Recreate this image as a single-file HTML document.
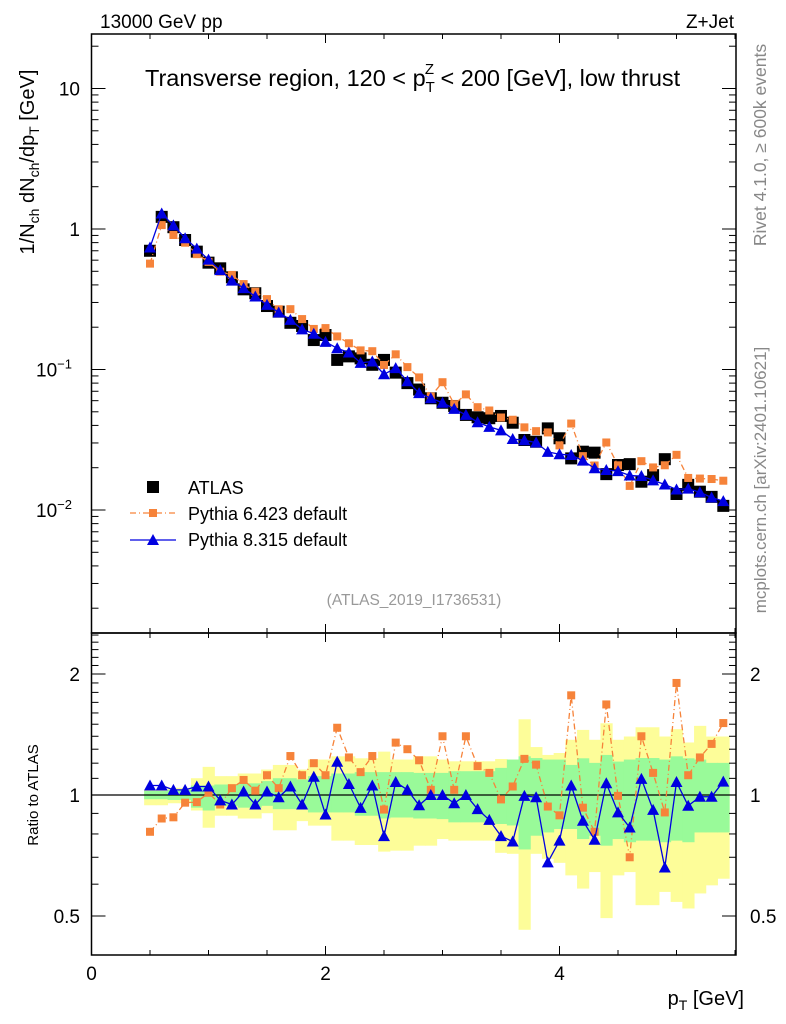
<!DOCTYPE html>
<html><head><meta charset="utf-8"><style>
body{margin:0;background:#fff}
svg{display:block;font-family:"Liberation Sans",sans-serif}
</style></head><body>
<svg id="c" width="786" height="1024" viewBox="0 0 786 1024" xmlns="http://www.w3.org/2000/svg">
<g id="bands"></g><g id="marks"></g><g id="axes"></g>
<text x="100" y="28" font-size="19">13000 GeV pp</text>
<text x="734" y="28" font-size="19" text-anchor="end">Z+Jet</text>
<text x="145" y="86" font-size="23.5">Transverse region, 120 &lt; p<tspan font-size="15" dy="6">T</tspan><tspan font-size="15" dx="-10" dy="-18">Z</tspan><tspan dy="12"> &lt; 200 [GeV], low thrust</tspan></text>
<text transform="translate(34,162) rotate(-90)" font-size="20" text-anchor="middle">1/N<tspan font-size="14" dy="5">ch</tspan><tspan dy="-5"> dN</tspan><tspan font-size="14" dy="5">ch</tspan><tspan dy="-5">/dp</tspan><tspan font-size="14" dy="5">T</tspan><tspan dy="-5"> [GeV]</tspan></text>
<text transform="translate(38,795) rotate(-90)" font-size="15" text-anchor="middle">Ratio to ATLAS</text>
<text x="744" y="1005" font-size="20" text-anchor="end">p<tspan font-size="14" dy="5">T</tspan><tspan dy="-5"> [GeV]</tspan></text>
<text transform="translate(766,145) rotate(-90)" font-size="17.5" fill="#888" text-anchor="middle">Rivet 4.1.0, ≥ 600k events</text>
<text transform="translate(766,480) rotate(-90)" font-size="17" fill="#888" text-anchor="middle">mcplots.cern.ch [arXiv:2401.10621]</text>
<text x="414" y="605" font-size="15.5" fill="#999" text-anchor="middle">(ATLAS_2019_I1736531)</text>
<g>
<rect x="147" y="481" width="12" height="12" fill="#000"/>
<text x="188" y="494" font-size="18">ATLAS</text>
<line x1="130" y1="513" x2="176" y2="513" stroke="#f6833a" stroke-width="1.3" stroke-dasharray="6,3,1,3"/>
<rect x="149" y="509" width="8" height="8" fill="#f6833a"/>
<text x="188" y="520" font-size="18">Pythia 6.423 default</text>
<line x1="130" y1="540" x2="176" y2="540" stroke="#0000e0" stroke-width="1.3"/>
<path d="M153,534 L159,545 L147,545 Z" fill="#0000e0"/>
<text x="188" y="546" font-size="18">Pythia 8.315 default</text>
</g>
</svg>
<script>
const xs=[0.5,0.6,0.7,0.8,0.9,1.0,1.1,1.2,1.3,1.4,1.5,1.6,1.7,1.8,1.9,2.0,2.1,2.2,2.3,2.4,2.5,2.6,2.7,2.8,2.9,3.0,3.1,3.2,3.3,3.4,3.5,3.6,3.7,3.8,3.9,4.0,4.1,4.2,4.3,4.4,4.5,4.6,4.7,4.8,4.9,5.0,5.1,5.2,5.3,5.4];
const atlas=[0.70,1.22,1.03,0.835,0.69,0.576,0.525,0.453,0.372,0.349,0.283,0.258,0.215,0.204,0.162,0.176,0.117,0.124,0.12,0.108,0.117,0.095,0.080,0.072,0.0624,0.058,0.055,0.0475,0.0457,0.045,0.0467,0.0418,0.0315,0.0306,0.0381,0.0324,0.0233,0.026,0.0256,0.018,0.0209,0.0212,0.0159,0.0177,0.023,0.013,0.0151,0.0135,0.0124,0.0107];
const r8=[1.056,1.056,1.03,1.03,1.05,1.05,0.97,0.947,1.02,0.947,1.02,0.987,1.05,0.947,1.11,0.894,1.21,1.065,0.929,1.056,0.79,1.077,1.03,0.943,1.0,1.0,0.954,1.0,0.922,0.867,0.79,0.766,0.995,0.987,0.68,0.77,1.056,0.863,0.774,1.07,0.905,0.83,1.097,0.918,0.66,1.077,0.94,0.99,0.99,1.08];
const r6=[0.81,0.874,0.88,0.957,0.96,1.013,0.947,1.04,1.09,1.025,1.12,1.04,1.25,1.12,1.2,1.12,1.47,1.24,1.14,1.25,0.92,1.35,1.3,1.22,1.03,1.4,1.03,1.4,1.18,1.135,0.975,1.05,1.23,1.19,0.936,0.89,1.77,0.93,0.81,1.68,0.995,0.70,1.4,1.135,0.905,1.9,1.12,1.24,1.34,1.51];
const yelHi=[1.029,1.029,1.042,1.042,1.101,1.175,1.114,1.114,1.131,1.131,1.157,1.188,1.188,1.157,1.225,1.225,1.248,1.248,1.234,1.234,1.282,1.225,1.225,1.248,1.248,1.225,1.213,1.213,1.213,1.213,1.229,1.225,1.543,1.316,1.258,1.272,1.372,1.452,1.372,1.508,1.372,1.398,1.474,1.474,1.398,1.458,1.351,1.486,1.398,1.398];
const yelLo=[0.943,0.943,0.954,0.954,0.915,0.829,0.888,0.888,0.874,0.874,0.901,0.817,0.817,0.861,0.839,0.839,0.770,0.770,0.751,0.751,0.723,0.727,0.727,0.748,0.748,0.777,0.770,0.770,0.770,0.770,0.718,0.714,0.462,0.714,0.694,0.678,0.631,0.585,0.643,0.494,0.631,0.643,0.532,0.532,0.574,0.542,0.522,0.569,0.596,0.619];
const grnHi=[1.023,1.023,1.029,1.029,1.056,1.056,1.062,1.062,1.069,1.069,1.083,1.101,1.101,1.093,1.114,1.114,1.131,1.131,1.140,1.140,1.140,1.140,1.140,1.135,1.135,1.135,1.146,1.146,1.146,1.146,1.168,1.225,1.248,1.236,1.225,1.225,1.188,1.234,1.202,1.258,1.211,1.225,1.236,1.236,1.225,1.248,1.234,1.225,1.202,1.202];
const grnLo=[0.976,0.976,0.972,0.972,0.930,0.915,0.940,0.940,0.930,0.930,0.940,0.922,0.922,0.922,0.905,0.905,0.905,0.905,0.888,0.888,0.874,0.879,0.879,0.874,0.874,0.871,0.855,0.855,0.855,0.855,0.847,0.840,0.732,0.792,0.807,0.823,0.823,0.777,0.792,0.748,0.777,0.763,0.770,0.770,0.763,0.770,0.763,0.807,0.807,0.807];
const xTicks=[0,2,4];
const ratioTicks=[0.5,1,2];

const NS="http://www.w3.org/2000/svg";
const L=91.5,R=736,T=34,MB=633,B=955;
const X=v=>L+117*v;
const Y=v=>229-140.5*Math.log10(v);
const RY=r=>Math.min(B,Math.max(MB,795-121*Math.log2(r)));
const bw=117*0.1;
function mk(tag,attrs,parent){const e=document.createElementNS(NS,tag);for(const k in attrs)e.setAttribute(k,attrs[k]);parent.appendChild(e);return e;}
const bands=document.getElementById('bands'),marks=document.getElementById('marks'),axes=document.getElementById('axes');

xs.forEach((x,i)=>{
  let e=mk('rect',{x:X(x)-bw/2,y:RY(yelHi[i]),width:bw+0.5,height:RY(yelLo[i])-RY(yelHi[i]),fill:'#fdfd99'},bands);
  
  
});
xs.forEach((x,i)=>{
  let e=mk('rect',{x:X(x)-bw/2,y:RY(grnHi[i]),width:bw+0.5,height:RY(grnLo[i])-RY(grnHi[i]),fill:'#99fa99'},bands);
  
  
});
let one=mk('line',{x1:L,x2:R,y1:RY(1),y2:RY(1),stroke:'#000','stroke-width':1.3},bands);



function series(pts,color,dash,name,shape){
  let p=mk('polyline',{points:pts.map(q=>q.join(',')).join(' '),fill:'none',stroke:color,'stroke-width':1.3,'stroke-dasharray':dash},marks);
  
  
  pts.forEach(q=>{
    let m;
    if(shape==='sq') m=mk('rect',{x:q[0]-4,y:q[1]-4,width:8,height:8,fill:color},marks);
    else m=mk('path',{d:`M${q[0]},${q[1]-6} L${q[0]+6},${q[1]+5} L${q[0]-6},${q[1]+5} Z`,fill:color},marks);
    
    
  });
}
xs.forEach((x,i)=>{
  let m=mk('rect',{x:X(x)-6,y:Y(atlas[i])-6,width:12,height:12,fill:'#000'},marks);
  
  
});
series(xs.map((x,i)=>[X(x),Y(atlas[i]*r6[i])]),'#f6833a','6,3,1,3','py6','sq');
series(xs.map((x,i)=>[X(x),Y(atlas[i]*r8[i])]),'#0000e0','','py8','tri');
series(xs.map((x,i)=>[X(x),RY(r6[i])]),'#f6833a','6,3,1,3','py6-ratio','sq');
series(xs.map((x,i)=>[X(x),RY(r8[i])]),'#0000e0','','py8-ratio','tri');

[[T,MB],[MB,B]].forEach(([a,b],k)=>{
  let f=mk('rect',{x:L,y:a,width:R-L,height:b-a,fill:'none',stroke:'#000','stroke-width':1.5},axes);
  
  
});
function tick(x1,y1,x2,y2){mk('line',{x1,y1,x2,y2,stroke:'#000','stroke-width':1},axes);}
for(let v=0;v<=5.5;v+=0.5){
  const maj=xTicks.includes(v), len=maj?9:5;
  [T,MB].forEach(y=>tick(X(v),y,X(v),y+len));
  [MB,B].forEach(y=>tick(X(v),y,X(v),y-len));
}
xTicks.forEach(v=>{
  let t=mk('text',{x:X(v),y:980,'font-size':19,'text-anchor':'middle'},axes);t.textContent=v;
  
  
});
for(let d=-3;d<=1;d++){for(let k=1;k<10;k++){const v=k*Math.pow(10,d);const y=Y(v);if(y<T||y>MB)continue;const len=k===1?14:7;tick(L,y,L+len,y);tick(R,y,R-len,y);}}
const mainLabels=[[10,'10',null],[1,'1',null],[0.1,'10','−1'],[0.01,'10','−2']];
mainLabels.forEach(([v,b,e])=>{
  let t=mk('text',{x:e?72:80,y:Y(v)+7,'font-size':19,'text-anchor':'end'},axes);
  t.textContent=b;
  if(e){let s=mk('tspan',{'font-size':13,dy:-8},t);s.textContent=e;}
  
  
});
[0.5,0.6,0.7,0.8,0.9,1,1.1,1.2,1.3,1.4,1.5,1.6,1.7,1.8,1.9,2,2.1,2.2,2.3,2.4,2.5].forEach(r=>{
  const y=795-121*Math.log2(r);if(y<MB||y>B)return;const len=ratioTicks.includes(r)?14:7;tick(L,y,L+len,y);tick(R,y,R-len,y);
});
ratioTicks.forEach(r=>{
  let t=mk('text',{x:80,y:RY(r)+7,'font-size':19,'text-anchor':'end'},axes);t.textContent=r;
  
  
  let t2=mk('text',{x:750,y:RY(r)+7,'font-size':19},axes);t2.textContent=r;
  
  
});
</script>
</body></html>
